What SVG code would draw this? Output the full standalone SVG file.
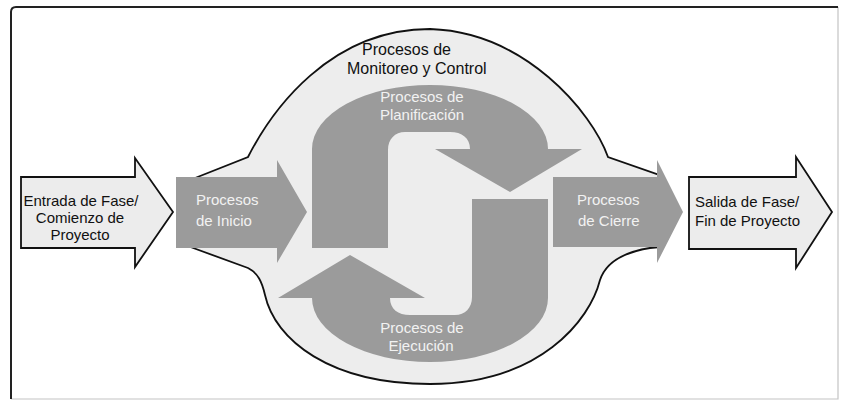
<svg xmlns="http://www.w3.org/2000/svg" width="841" height="402" viewBox="0 0 841 402">
<style>
.blk{font-family:"Liberation Sans",Arial,sans-serif;font-size:15px;fill:#111}
.wht{font-family:"Liberation Sans",Arial,sans-serif;font-size:15px;fill:#f2f2f2}
.side{fill:#ececec;stroke:#111;stroke-width:1.8;stroke-linejoin:miter}
.dark{fill:#9b9b9b}
</style>
<defs>
<path id="bend" d="M312,248 L312,149 A118,64 0 0 1 548,149 L582,149 L510,192 L435,149 L470,149 C470,138 462,132 450,132 L405,132 C395,132 388,139 388,150 L388,248 Z"/>
</defs>
<rect width="841" height="402" fill="#fff"/>
<path d="M838,7 L838,399 L11,399" fill="none" stroke="#c4c4c4" stroke-width="1.2"/>
<path d="M11,399 L11,12 Q11,7 16,7 L838,7" fill="none" stroke="#222" stroke-width="2"/>
<g id="monitoreo">
<path d="M190,180 L248,157 C272,110 330,29 430,29 C525,32 592,112 608,157 L662,176 L662,247 L650,248 C625,252 606,262 600,280 C590,320 540,384 430,384 C330,384 275,340 265,295 C262,282 258,273 248,268 L185,245 Z" fill="#ededed" stroke="#111" stroke-width="1.8"/>
<text class="blk" style="font-size:16px" x="362" y="55">Procesos de</text>
<text class="blk" style="font-size:16px" x="347" y="74">Monitoreo y Control</text>
</g>
<g id="entrada">
<path class="side" d="M21,177 L135,177 L135,158 L173,212 L135,267 L135,248 L21,248 Z"/>
<text class="blk" text-anchor="middle" x="81" y="206">Entrada de Fase/</text>
<text class="blk" text-anchor="middle" x="80" y="223">Comienzo de</text>
<text class="blk" text-anchor="middle" x="80" y="240">Proyecto</text>
</g>
<g id="inicio">
<path class="dark" d="M176,177 L277,177 L277,160 L307,212 L277,263 L277,248 L176,248 Z"/>
<text class="wht" x="196" y="205">Procesos</text>
<text class="wht" x="196" y="226">de Inicio</text>
</g>
<g id="planificacion">
<use href="#bend" class="dark"/>
<text class="wht" text-anchor="middle" x="422" y="102">Procesos de</text>
<text class="wht" text-anchor="middle" x="422" y="120">Planificación</text>
</g>
<g id="ejecucion">
<use href="#bend" class="dark" transform="rotate(180 430 223.5)"/>
<text class="wht" text-anchor="middle" x="422" y="333">Procesos de</text>
<text class="wht" text-anchor="middle" x="421" y="351">Ejecución</text>
</g>
<g id="cierre">
<path class="dark" d="M553,177 L657,177 L657,160 L683,212 L657,263 L657,247 L553,247 Z"/>
<text class="wht" x="577" y="205">Procesos</text>
<text class="wht" x="578" y="226">de Cierre</text>
</g>
<g id="salida">
<path class="side" d="M689,177 L796,177 L796,157 L832,212 L796,268 L796,249 L689,249 Z"/>
<text class="blk" x="695" y="207">Salida de Fase/</text>
<text class="blk" x="695" y="226">Fin de Proyecto</text>
</g>
<g id="connectors"></g>
</svg>
